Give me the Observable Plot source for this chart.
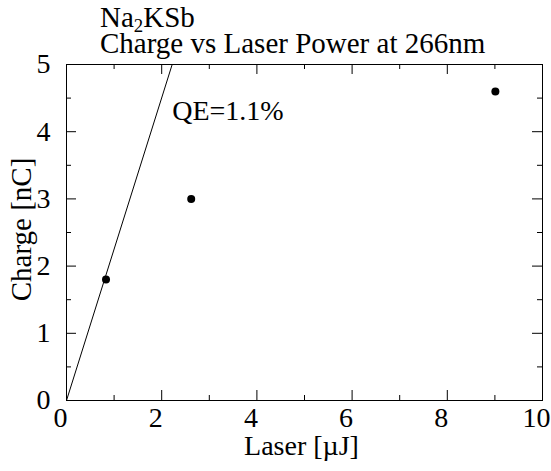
<!DOCTYPE html>
<html>
<head>
<meta charset="utf-8">
<script src="https://cdn.jsdelivr.net/npm/d3@7"></script>
<script src="https://cdn.jsdelivr.net/npm/@observablehq/plot@0.6"></script>
<style>
  html, body { margin: 0; padding: 0; background: white; }
  #wrap { position: relative; width: 551px; height: 471px; font-family: "Liberation Serif", Tinos, "Times New Roman", Times, "DejaVu Serif", "Noto Serif", serif; color: black; }
  .tline { position: absolute; left: 100px; font-size: 29px; line-height: 32px; height: 32px; white-space: nowrap; z-index: 2; }
  #t1 { top: 1px; }
  #t2 { top: 27px; }
  .tline sub { font-size: 65%; vertical-align: -0.25em; line-height: 0; }
  #chart svg, #chart svg text { font-family: "Liberation Serif", Tinos, "Times New Roman", Times, "DejaVu Serif", "Noto Serif", serif !important; }
</style>
</head>
<body>
<div id="wrap">
  <div class="tline" id="t1">Na<sub>2</sub>KSb</div>
  <div class="tline" id="t2">Charge vs Laser Power at 266nm</div>
  <div id="chart"></div>
</div>
<script>
// Data
const laser = [0.83, 2.62, 9.01];          // µJ
const charge = [1.80, 3.00, 4.60];         // nC
const fitLaser = [0, 2.22];                 // QE = 1.1% line
const fitCharge = [0, 5];
const xTickLabels = [0, 2, 4, 6, 8, 10];
const xMinor = [1, 3, 5, 7, 9];
const yTickLabels = [0, 1, 2, 3, 4, 5];
const yMinor = [0.5, 1.5, 2.5, 3.5, 4.5];
const annotation = [{x: 2.22, y: 4.17, text: "QE=1.1%"}];
const xLabel = "Laser [\u00b5J]";
const yLabel = "Charge [nC]";

const W = 551, H = 471;
const mL = 66, mR = 9, mT = 64, mB = 71;
const fw = W - mL - mR, fh = H - mT - mB;
const major = 10, minor = 5;
const FONT = "'Liberation Serif', Tinos, 'Times New Roman', Times, 'DejaVu Serif', 'Noto Serif', serif";

const points = laser.map((x, i) => ({x, y: charge[i]}));
const fit = fitLaser.map((x, i) => ({x, y: fitCharge[i]}));

const chart = Plot.plot({
  width: W, height: H,
  marginLeft: mL, marginRight: mR, marginTop: mT, marginBottom: mB,
  style: {fontFamily: FONT, fontSize: "28px", background: "white", color: "black"},
  x: {domain: [0, 10]},
  y: {domain: [0, 5]},
  marks: [
    Plot.frame({stroke: "black", strokeWidth: 1}),
    Plot.tickX(xTickLabels, {x: d => d, insetTop: fh - major, stroke: "black"}),
    Plot.tickX(xMinor, {x: d => d, insetTop: fh - minor, stroke: "black"}),
    Plot.tickX(xTickLabels, {x: d => d, insetBottom: fh - major, stroke: "black"}),
    Plot.tickX(xMinor, {x: d => d, insetBottom: fh - minor, stroke: "black"}),
    Plot.tickY(yTickLabels, {y: d => d, insetRight: fw - major, stroke: "black"}),
    Plot.tickY(yMinor, {y: d => d, insetRight: fw - minor, stroke: "black"}),
    Plot.tickY(yTickLabels, {y: d => d, insetLeft: fw - major, stroke: "black"}),
    Plot.tickY(yMinor, {y: d => d, insetLeft: fw - minor, stroke: "black"}),
    Plot.axisX({ticks: xTickLabels, tickSize: 0, tickPadding: 7, dx: -6, label: null, fontSize: 28, tickFormat: d => String(d)}),
    Plot.axisY({ticks: yTickLabels, tickSize: 0, tickPadding: 16, label: null, fontSize: 28, tickFormat: d => String(d)}),
    Plot.text([xLabel], {frameAnchor: "bottom", lineAnchor: "middle", textAnchor: "middle", text: d => d, dy: 46, dx: -3, fontSize: 28}),
    Plot.text([yLabel], {frameAnchor: "left", lineAnchor: "middle", textAnchor: "middle", text: d => d, rotate: -90, dx: -45, dy: -3, fontSize: 29}),
    Plot.line(fit, {x: "x", y: "y", stroke: "black", strokeWidth: 1, clip: true}),
    Plot.dot(points, {x: "x", y: "y", r: 4, fill: "black", stroke: "none"}),
    Plot.text(annotation, {x: "x", y: "y", text: "text", textAnchor: "start", lineAnchor: "bottom", fontSize: 28})
  ]
});
document.getElementById("chart").appendChild(chart);
</script>
</body>
</html>
